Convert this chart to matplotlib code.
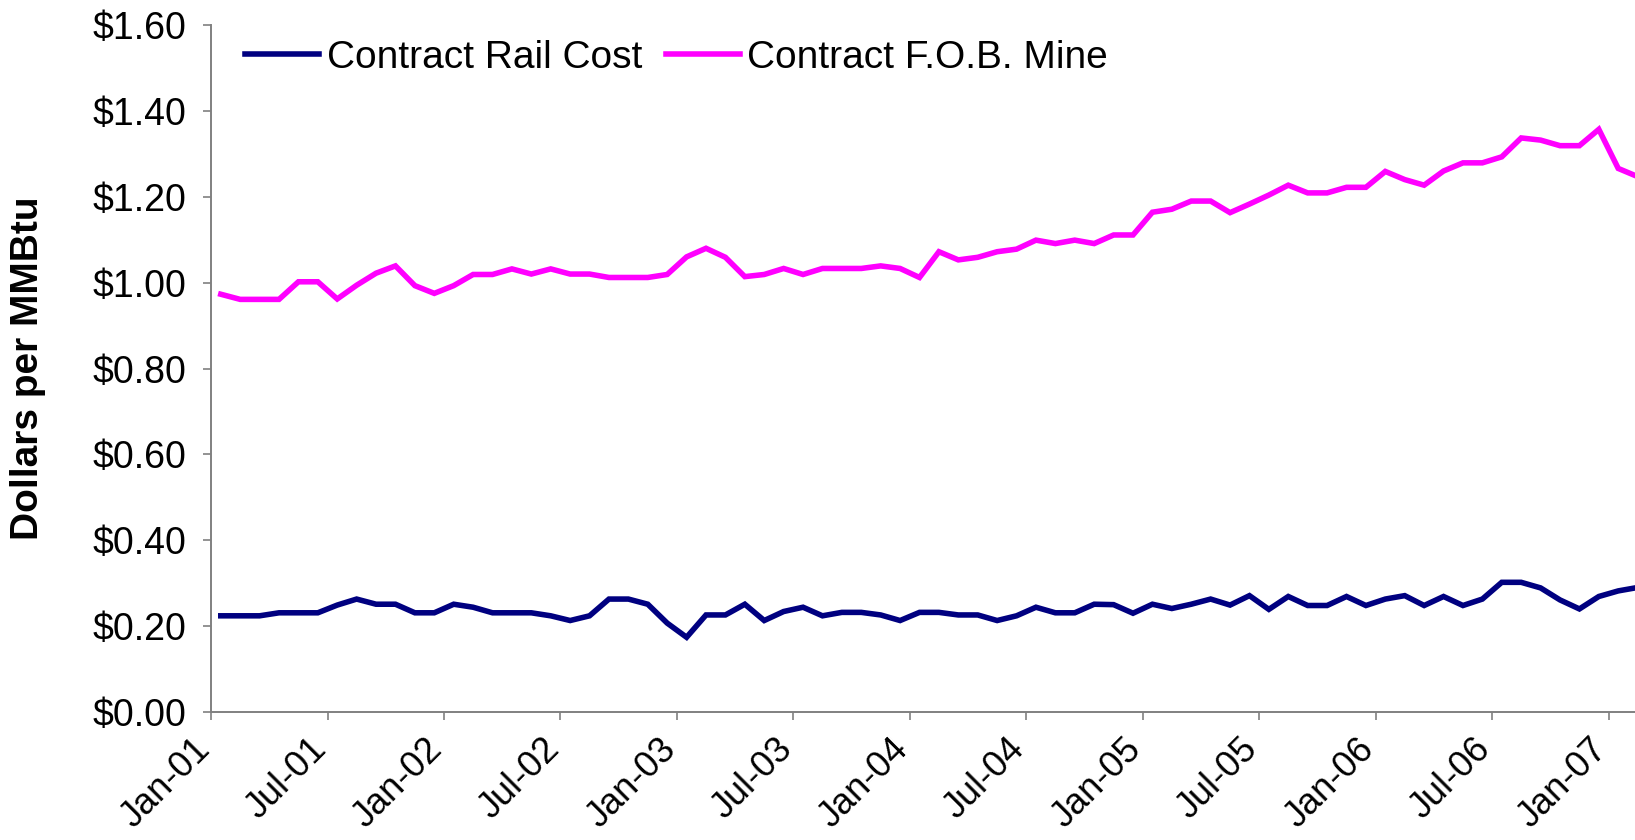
#Contract rail cost vs contract F.O.B. mine price, monthly 2001-2007
#
import numpy as np
import matplotlib
matplotlib.use('Agg')
import matplotlib.pyplot as plt
from matplotlib.ticker import FuncFormatter
from matplotlib.transforms import ScaledTranslation

plt.rcParams['font.family'] = ['Liberation Sans', 'DejaVu Sans']

# monthly values, Jan-01 .. Feb-07 ($ per MMBtu)
rail_cost = [
    0.224, 0.224, 0.224, 0.231, 0.231, 0.231, 0.249, 0.263, 0.251, 0.251, 0.231, 0.231,
    0.251, 0.244, 0.231, 0.231, 0.231, 0.224, 0.213, 0.224, 0.263, 0.263, 0.251, 0.207,
    0.174, 0.226, 0.226, 0.251, 0.213, 0.234, 0.244, 0.224, 0.232, 0.232, 0.226, 0.213,
    0.232, 0.232, 0.226, 0.226, 0.213, 0.224, 0.244, 0.231, 0.231, 0.251, 0.250, 0.230,
    0.251, 0.241, 0.251, 0.263, 0.249, 0.271, 0.239, 0.269, 0.248, 0.248, 0.269, 0.248,
    0.263, 0.271, 0.248, 0.269, 0.248, 0.263, 0.302, 0.302, 0.289, 0.261, 0.240, 0.269,
    0.282, 0.290,
]
fob_mine = [
    0.973, 0.961, 0.961, 0.961, 1.002, 1.002, 0.962, 0.994, 1.022, 1.039, 0.993, 0.975,
    0.993, 1.019, 1.019, 1.032, 1.020, 1.032, 1.020, 1.020, 1.012, 1.012, 1.012, 1.019,
    1.060, 1.080, 1.059, 1.014, 1.019, 1.033, 1.019, 1.033, 1.033, 1.033, 1.039, 1.033,
    1.012, 1.072, 1.053, 1.059, 1.072, 1.078, 1.099, 1.091, 1.099, 1.091, 1.111, 1.111,
    1.164, 1.171, 1.190, 1.190, 1.163, 1.183, 1.204, 1.227, 1.209, 1.209, 1.222, 1.222,
    1.259, 1.240, 1.227, 1.260, 1.279, 1.279, 1.293, 1.337, 1.332, 1.319, 1.319, 1.357,
    1.266, 1.247,
]
tick_labels = ['Jan-01', 'Jul-01', 'Jan-02', 'Jul-02', 'Jan-03', 'Jul-03', 'Jan-04',
               'Jul-04', 'Jan-05', 'Jul-05', 'Jan-06', 'Jul-06', 'Jan-07']
labels = ['Contract Rail Cost', 'Contract F.O.B. Mine']
colors = ['#000080', '#FF00FF']

x = np.arange(len(rail_cost))

fig = plt.figure(figsize=(16.35, 8.4), dpi=100)
ax = fig.add_axes([0.1291, 0.1524, 0.8709, 0.8178])

for y, color, label in zip([rail_cost, fob_mine], colors, labels):
    ax.plot(x, y, '-', color=color, lw=4.0, label=label, solid_joinstyle='miter')

ax.set_xlim(-0.5, -0.5 + 1424 / 19.41)
ax.set_ylim(0, 1.6)
ax.set_yticks(np.arange(0, 1.61, 0.2))
ax.yaxis.set_major_formatter(FuncFormatter(lambda v, p: '${:.2f}'.format(v)))
ax.set_xticks(np.arange(len(tick_labels)) * 6 - 0.5)
ax.set_xticklabels(tick_labels, rotation=45, ha='right', va='top', rotation_mode='anchor')

for s in ['top', 'right']:
    ax.spines[s].set_visible(False)
for s in ['left', 'bottom']:
    ax.spines[s].set_color('#808080')
    ax.spines[s].set_linewidth(1.4)

ax.tick_params(axis='both', direction='out', length=6, width=1.2, color='#808080', labelsize=27)
ax.tick_params(axis='y', pad=12)
ax.tick_params(axis='x', pad=8, labelsize=26)

# shift the slanted date labels a bit left, as in the original
shift = ScaledTranslation(-0.19, 0, fig.dpi_scale_trans)
for lab in ax.get_xticklabels():
    lab.set_transform(lab.get_transform() + shift)

fig.text(0.017, 0.562, 'Dollars per MMBtu', rotation=90, ha='center', va='center',
         fontsize=28, fontweight='bold')

fig.legend(loc='center left', bbox_to_anchor=(0.150, 0.931), ncol=2, frameon=False,
           fontsize=28, handlelength=1.9, handletextpad=0.2, columnspacing=0.6,
           borderpad=0, borderaxespad=0)

fig.savefig('out.png', dpi=100)
